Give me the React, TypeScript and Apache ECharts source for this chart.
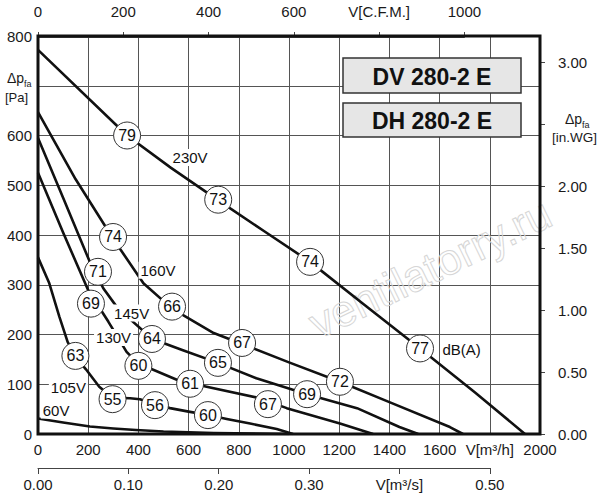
import React, { useEffect, useRef } from "react";
import * as echarts from "echarts";

const FONT = "'Liberation Sans', Arial, sans-serif";

// Airflow [m³/h] vs static pressure [Pa] for each supply voltage
const CURVE_230V = [[0, 772], [355, 600], [530, 535], [717, 470], [900, 408], [1084, 346], [1300, 260], [1522, 172], [1740, 84], [1940, 0]];
const CURVE_160V = [[0, 647], [150, 512], [300, 392], [420, 303], [534, 252], [700, 203], [813, 181], [1000, 144], [1203, 105], [1400, 64], [1641, 14], [1693, 0]];
const CURVE_145V = [[0, 595], [100, 475], [208, 344], [260, 293], [319, 252], [456, 191], [580, 168], [717, 143], [870, 112], [1072, 80], [1271, 52], [1440, 14], [1515, 0]];
const CURVE_130V = [[0, 525], [100, 405], [200, 289], [280, 226], [353, 165], [400, 141], [459, 129], [553, 109], [672, 95], [884, 72], [991, 52], [1203, 21], [1335, 0]];
const CURVE_105V = [[0, 355], [45, 303], [85, 236], [118, 185], [150, 155], [191, 130], [244, 95], [297, 73], [367, 72], [406, 70], [466, 60], [526, 52], [600, 45], [678, 38], [752, 30], [845, 21], [951, 10], [1016, 0]];
const CURVE_60V = [[0, 31], [100, 23], [207, 15], [300, 11], [390, 8], [500, 5], [700, 2], [1000, 0]];
const CURVES = [CURVE_230V, CURVE_160V, CURVE_145V, CURVE_130V, CURVE_105V, CURVE_60V];

// Sound level markers dB(A): [m³/h, Pa, label]
const DB_MARKERS = [
  [355, 600, "79"], [718, 471, "73"], [1084, 346, "74"], [1522, 172, "77"],
  [299, 396, "74"], [534, 256, "66"], [813, 183, "67"], [1203, 105, "72"],
  [239, 326, "71"], [454, 191, "64"], [717, 143, "65"], [1072, 80, "69"],
  [211, 262, "69"], [400, 137, "60"], [606, 101, "61"], [916, 60, "67"],
  [149, 157, "63"], [297, 70, "55"], [466, 58, "56"], [677, 38, "60"],
];

// Curve labels: [m³/h, Pa, text]
const CURVE_LABELS = [
  [606, 556, "230V"], [478, 329, "160V"], [373, 243, "145V"], [301, 194, "130V"],
  [121, 93, "105V"], [72, 48, "60V"], [1688, 170, "dB(A)"],
];

// Axis ranges and names
const FLOW_M3H = { min: 0, max: 2000, step: 200, nameAt: 1800, name: "V[m³/h]" };
const PRESS_PA = { min: 0, max: 800, step: 100, nameAt: 700 };
const FLOW_CFM = { min: 0, max: 1000, step: 200, nameAt: 800, name: "V[C.F.M.]" };
const FLOW_M3S = { min: 0, max: 0.5, step: 0.1, nameAt: 0.4, name: "V[m³/s]" };
const PRESS_INWG = { min: 0, max: 3, step: 0.5, nameAt: 2.5 };
const CFM_TO_M3H = 1.699;
const INWG_TO_PA = 249.09;
const TITLES = ["DV 280-2 E", "DH 280-2 E"];
const WATERMARK = "ventilatorry.ru";

// layout
const G = { left: 38, top: 36, width: 502, height: 398 };
const pxPerM3h = G.width / FLOW_M3H.max;
const pxPerPa = G.height / PRESS_PA.max;

const near = (a: number, b: number) => Math.abs(a - b) < 1e-6;
const TXT = "#1a1a1a";

export default function App() {
  const ref = useRef<HTMLDivElement>(null);
  useEffect(() => {
    if (!ref.current) return;
    const chart = echarts.init(ref.current, undefined, { renderer: "svg" });
    const bottom = G.top + G.height;
    const cfmWidth = FLOW_CFM.max * CFM_TO_M3H * pxPerM3h;
    const m3sWidth = FLOW_M3S.max * 3600 * pxPerM3h;
    const inwgHeight = PRESS_INWG.max * INWG_TO_PA * pxPerPa;

    const hidden = (i: number) => ({ gridIndex: i, type: "value", show: false, min: 0, max: 1 });
    const tickLabel = { color: TXT, fontSize: 15, fontFamily: FONT };

    const option: any = {
      animation: false,
      backgroundColor: "#ffffff",
      textStyle: { fontFamily: FONT },
      grid: [
        { left: G.left, top: G.top, width: G.width, height: G.height },
        { left: G.left, top: 27, width: cfmWidth, height: 10 },
        { left: G.left, top: 458, width: m3sWidth, height: 10 },
        { left: 540, top: bottom - inwgHeight, width: 11, height: inwgHeight },
      ],
      xAxis: [
        {
          gridIndex: 0, type: "value", min: FLOW_M3H.min, max: FLOW_M3H.max, interval: FLOW_M3H.step,
          position: "bottom",
          axisLine: { show: false }, axisTick: { show: false },
          splitLine: { show: true, lineStyle: { color: "#555", width: 1 } },
          axisLabel: {
            ...tickLabel, margin: 8, showMinLabel: true, showMaxLabel: true,
            formatter: (v: number) => (near(v, FLOW_M3H.nameAt) ? FLOW_M3H.name : String(v)),
          },
        },
        {
          gridIndex: 1, type: "value", min: FLOW_CFM.min, max: FLOW_CFM.max, interval: FLOW_CFM.step,
          position: "top",
          axisLine: { show: true, lineStyle: { color: "#444", width: 1 } },
          axisTick: { show: true, inside: false, length: 5, lineStyle: { color: "#444" } },
          splitLine: { show: false },
          axisLabel: {
            ...tickLabel, margin: 8, showMinLabel: true, showMaxLabel: true,
            formatter: (v: number) => (near(v, FLOW_CFM.nameAt) ? FLOW_CFM.name : String(v)),
          },
        },
        {
          gridIndex: 2, type: "value", min: FLOW_M3S.min, max: FLOW_M3S.max, interval: FLOW_M3S.step,
          position: "bottom",
          axisLine: { show: true, lineStyle: { color: "#444", width: 1 } },
          axisTick: { show: true, inside: false, length: 6, lineStyle: { color: "#444" } },
          splitLine: { show: false },
          axisLabel: {
            ...tickLabel, margin: 9, showMinLabel: true, showMaxLabel: true,
            formatter: (v: number) => (near(v, FLOW_M3S.nameAt) ? FLOW_M3S.name : v.toFixed(2)),
          },
        },
        hidden(3),
      ],
      yAxis: [
        {
          gridIndex: 0, type: "value", min: PRESS_PA.min, max: PRESS_PA.max, interval: PRESS_PA.step,
          axisLine: { show: false }, axisTick: { show: false },
          splitLine: { show: true, lineStyle: { color: "#555", width: 1 } },
          axisLabel: {
            ...tickLabel, margin: 6, showMinLabel: true, showMaxLabel: true,
            formatter: (v: number) => (near(v, PRESS_PA.nameAt) ? "" : String(v)),
          },
        },
        hidden(1),
        hidden(2),
        {
          gridIndex: 3, type: "value", position: "right",
          min: PRESS_INWG.min, max: PRESS_INWG.max, interval: PRESS_INWG.step,
          axisLine: { show: true, lineStyle: { color: "#444", width: 1 } },
          axisTick: { show: true, inside: false, length: 5, lineStyle: { color: "#444" } },
          splitLine: { show: false },
          axisLabel: {
            ...tickLabel, margin: 7, showMinLabel: true, showMaxLabel: true,
            formatter: (v: number) => (near(v, PRESS_INWG.nameAt) ? "" : v.toFixed(2)),
          },
        },
      ],
      series: [
        ...CURVES.map((c) => ({
          type: "line", xAxisIndex: 0, yAxisIndex: 0, data: c,
          showSymbol: false, smooth: false, z: 3,
          lineStyle: { color: "#111", width: 2.6, join: "round" },
          silent: true,
        })),
        {
          type: "scatter", xAxisIndex: 0, yAxisIndex: 0, z: 6,
          data: DB_MARKERS.map((m) => ({ value: [m[0], m[1]], name: m[2] })),
          symbol: "circle", symbolSize: 27,
          itemStyle: { color: "#ffffff", borderColor: "#333", borderWidth: 1, opacity: 1 },
          label: { show: true, position: "inside", formatter: (p: any) => p.name, color: "#111", fontSize: 16, fontFamily: FONT },
          silent: true,
        },
        {
          type: "scatter", xAxisIndex: 0, yAxisIndex: 0, z: 7,
          data: CURVE_LABELS.map((m) => ({ value: [m[0], m[1]], name: m[2] })),
          symbol: "circle", symbolSize: 0,
          itemStyle: { opacity: 1, color: "#fff" },
          label: {
            show: true, position: "inside", formatter: (p: any) => p.name,
            color: "#111", fontSize: 15, fontFamily: FONT,
            backgroundColor: "#ffffff", padding: [1, 2],
          },
          silent: true,
        },
      ],
      graphic: [
        {
          type: "text", x: 430, y: 268, rotation: (26 * Math.PI) / 180, z: 1, silent: true,
          style: {
            text: WATERMARK, fontSize: 44, fontFamily: FONT, align: "center", verticalAlign: "middle",
            fill: "rgba(255,255,255,0)", stroke: "#d6d6d6", lineWidth: 1,
          },
        },
        {
          type: "rect", z: 50, silent: true,
          shape: { x: G.left, y: G.top, width: G.width, height: G.height },
          style: { fill: "none", stroke: "#111", lineWidth: 3 },
        },
        ...TITLES.flatMap((t, i) => {
          const y = i === 0 ? 58 : 103;
          const h = i === 0 ? 35 : 34;
          return [
            {
              type: "rect", z: 60, silent: true,
              shape: { x: 343, y, width: 178, height: h },
              style: { fill: "#e6e6e6", stroke: "#333", lineWidth: 1.5 },
            },
            {
              type: "text", z: 61, silent: true, x: 432, y: y + h / 2 + 1,
              style: { text: t, fontSize: 23, fontWeight: "bold", fontFamily: FONT, fill: "#111", align: "center", verticalAlign: "middle" },
            },
          ];
        }),
        // left axis name
        { type: "text", z: 60, x: 7, y: 78, style: { text: "Δp", fontSize: 14, fontFamily: FONT, fill: TXT, verticalAlign: "middle" } },
        { type: "text", z: 60, x: 24, y: 84, style: { text: "fa", fontSize: 9, fontFamily: FONT, fill: TXT, verticalAlign: "middle" } },
        { type: "text", z: 60, x: 5, y: 97, style: { text: "[Pa]", fontSize: 13, fontFamily: FONT, fill: TXT, verticalAlign: "middle" } },
        // right axis name
        { type: "text", z: 60, x: 565, y: 119, style: { text: "Δp", fontSize: 14, fontFamily: FONT, fill: TXT, verticalAlign: "middle" } },
        { type: "text", z: 60, x: 582, y: 125, style: { text: "fa", fontSize: 9, fontFamily: FONT, fill: TXT, verticalAlign: "middle" } },
        { type: "text", z: 60, x: 552, y: 137, style: { text: "[in.WG]", fontSize: 13.5, fontFamily: FONT, fill: TXT, verticalAlign: "middle" } },
      ],
    };
    chart.setOption(option);
    return () => chart.dispose();
  }, []);

  return (
    <div
      ref={ref}
      style={{ position: "fixed", left: 0, top: 0, width: 600, height: 500, background: "#fff" }}
    />
  );
}
